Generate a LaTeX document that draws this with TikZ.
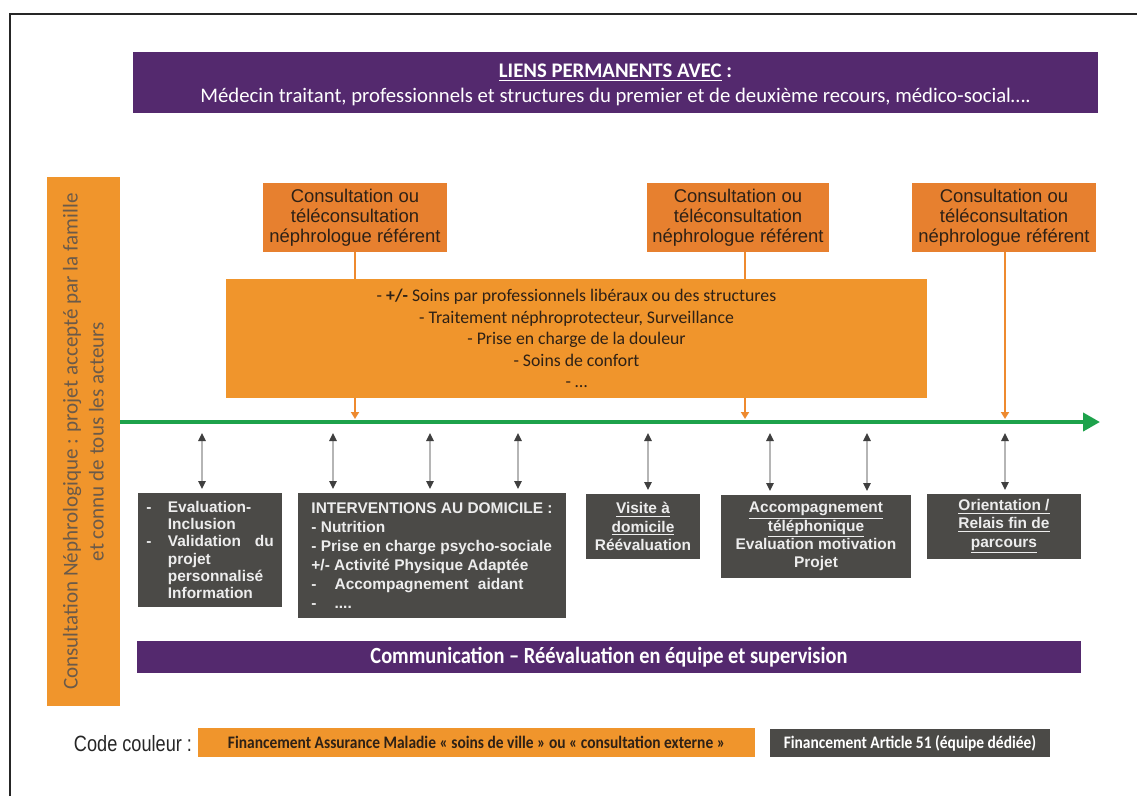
\documentclass[tikz,border=0pt]{standalone}
\usepackage{fontspec}
\setmainfont{Carlito}
\newfontfamily\arialf{Liberation Sans}
\newfontfamily\arialnarrow{Liberation Sans}[FakeStretch=0.82]
\newfontfamily\carlitonarrow{Carlito}[FakeStretch=0.88]
\usetikzlibrary{arrows.meta,fit}

\definecolor{bandViolet}{HTML}{54296E}
\definecolor{softOrange}{HTML}{F0952C}
\definecolor{deepOrange}{HTML}{E7802F}
\definecolor{slateGrey}{HTML}{4B4A47}
\definecolor{lineGreen}{HTML}{1DA24B}
\definecolor{barInk}{HTML}{6B5A49}
\definecolor{darkInk}{HTML}{2E2116}
\definecolor{paleInk}{HTML}{EDEDED}
\definecolor{shaftGrey}{HTML}{B5B5B5}
\definecolor{headGrey}{HTML}{3F3F3F}
\definecolor{linkOrange}{HTML}{EE8A2F}

\newcommand\dashlbl[1]{\makebox[#1][l]{-}}

\begin{document}
\begin{tikzpicture}[x=0.02cm,y=-0.02cm,
  box/.style={inner sep=0pt, outer sep=0pt},
  label text/.style={inner sep=0pt, outer sep=0pt},
  band/.style={box, fill=bandViolet},
  consult/.style={box, fill=deepOrange},
  consulttext/.style={label text, text=darkInk, align=center,
    font=\arialf\fontsize{10.5}{11.4}\selectfont},
  care/.style={box, fill=softOrange},
  caretext/.style={label text, text=darkInk, align=center,
    font=\fontsize{10.1}{12.2}\selectfont},
  task/.style={box, fill=slateGrey},
  tasktext/.style={label text, text=paleInk,
    font=\arialf\bfseries\fontsize{8.8}{10.4}\selectfont},
  timeline/.style={draw=lineGreen, line width=0.08cm,
    -{Triangle[length=0.34cm,width=0.36cm]}},
  link/.style={draw=linkOrange, line width=0.035cm,
    -{Triangle[length=0.14cm,width=0.16cm]}},
  exchange/.style={draw=shaftGrey, line width=0.03cm,
    {Triangle[length=0.16cm,width=0.15cm,color=headGrey]}-{Triangle[length=0.16cm,width=0.15cm,color=headGrey]},
    shorten >=0.08cm},
  frameline/.style={draw=black!85, line width=0.045cm}]

\useasboundingbox (0,0) rectangle (1137,796);
\fill[white] (0,0) rectangle (1137,796);

% outer frame
\coordinate (fbl) at (10,796);
\coordinate (ftl) at (10,14);
\coordinate (ftr) at (1137,14);
\draw[frameline] (fbl) -- (ftl) -- (ftr);

% top band
\node[band, fit={(133,52)(1098,113)}] (liens) {};
\node[label text, text=white, align=center, font=\fontsize{11.8}{14.4}\selectfont] (lienstext) at ([yshift=-0.05cm]liens.center)
  {\textbf{\underline{LIENS PERMANENTS AVEC}} \textbf{:}\\
   Médecin traitant, professionnels et structures du premier et de deuxième recours, médico-social….};

% left vertical bar
\node[box, fill=softOrange, fit={(47,177)(120,706)}] (bar) {};
\node[label text, rotate=90, align=center, text=barInk, font=\fontsize{12}{14.8}\selectfont] (bartext) at (bar.center)
  {Consultation Néphrologique : projet accepté par la famille\\et connu de tous les acteurs};

% consultations
\node[consult, fit={(263,183)(447,252)}] (c1) {};
\node[consult, fit={(647,183)(829,252)}] (c2) {};
\node[consult, fit={(912,183)(1096,252)}] (c3) {};
\node[consulttext] (c1t) at (c1.center) {Consultation ou\\téléconsultation\\néphrologue référent};
\node[consulttext] (c2t) at (c2.center) {Consultation ou\\téléconsultation\\néphrologue référent};
\node[consulttext] (c3t) at (c3.center) {Consultation ou\\téléconsultation\\néphrologue référent};

% timeline
\coordinate (tEnd) at (1100,422);
\draw[timeline] (bar.east |- tEnd) -- (tEnd);

% links from consultations down to the timeline
\coordinate (a1) at (355,419);
\coordinate (a2) at (745,419);
\coordinate (a3) at (1005,419);
\draw[link] (c1.south -| a1) -- (a1);
\draw[link] (c2.south -| a2) -- (a2);
\draw[link] (c3.south -| a3) -- (a3);

% continuous care box (over the links)
\node[care, fit={(226,279)(927,398)}] (soins) {};
\node[caretext] (soinstext) at (soins.center)
  {- \textbf{+/-} Soins par professionnels libéraux ou des structures\\
   - Traitement néphroprotecteur, Surveillance\\
   - Prise en charge de la douleur\\
   - Soins de confort\\
   - …};

% dedicated team actions
\node[task, fit={(138,493)(282,607)}] (g1) {};
\node[task, fit={(298,493)(566,618)}] (g2) {};
\node[task, fit={(586,494)(700,559)}] (g3) {};
\node[task, fit={(721,495)(911,578)}] (g4) {};
\node[task, fit={(927,494)(1081,559)}] (g5) {};

\node[tasktext, align=left, font=\arialf\bfseries\fontsize{8.8}{9.8}\selectfont] (g1t) at (g1.center)
  {\dashlbl{1.4em}Evaluation-\\
   \hspace*{1.4em}Inclusion\\
   \dashlbl{1.4em}Validation\hspace{0.9em}du\\
   \hspace*{1.4em}projet\\
   \hspace*{1.4em}personnalisé\\
   \hspace*{1.4em}Information};
\node[tasktext, align=left, font=\arialf\bfseries\fontsize{8.8}{10.8}\selectfont] (g2t) at (g2.center)
  {INTERVENTIONS AU DOMICILE :\\
   - Nutrition\\
   - Prise en charge psycho-sociale\\
   +/- Activité Physique Adaptée\\
   \dashlbl{1.5em}Accompagnement\hspace{0.6em}aidant\\
   \dashlbl{1.5em}....};
\node[tasktext, align=center] (g3t) at (g3.center)
  {\underline{Visite à}\\ \underline{domicile}\\ Réévaluation};
\node[tasktext, align=center] (g4t) at (g4.center)
  {\underline{Accompagnement}\\ \underline{téléphonique}\\ Evaluation motivation\\ Projet};
\node[tasktext, align=center] (g5t) at (g5.center)
  {\underline{Orientation /}\\ \underline{Relais fin de}\\ \underline{parcours}};

% exchanges between the timeline and the actions
\coordinate (t1) at (202,433);
\coordinate (t2) at (333,433);
\coordinate (t3) at (430,433);
\coordinate (t4) at (518,433);
\coordinate (t5) at (648,433);
\coordinate (t6) at (770,433);
\coordinate (t7) at (867,433);
\coordinate (t8) at (1005,433);
\draw[exchange] (t1) -- (t1 |- g1.north);
\draw[exchange] (t2) -- (t2 |- g2.north);
\draw[exchange] (t3) -- (t3 |- g2.north);
\draw[exchange] (t4) -- (t4 |- g2.north);
\draw[exchange] (t5) -- (t5 |- g3.north);
\draw[exchange] (t6) -- (t6 |- g4.north);
\draw[exchange] (t7) -- (t7 |- g4.north);
\draw[exchange] (t8) -- (t8 |- g5.north);

% bottom band
\node[band, fit={(137,641)(1081,673)}] (comm) {};
\node[label text, text=white, font=\carlitonarrow\bfseries\fontsize{13.2}{15}\selectfont] (commtext) at (comm.center)
  {Communication – Réévaluation en équipe et supervision};

% colour legend
\node[label text, text=black!85, font=\arialnarrow\fontsize{12.6}{14}\selectfont] (code) at (133,744) {Code couleur :};
\node[box, fill=softOrange, fit={(198,728)(755,757)}] (legA) {};
\node[box, fill=slateGrey, fit={(770,729)(1050,757)}] (legB) {};
\node[label text, text=darkInk, font=\carlitonarrow\bfseries\fontsize{10}{12}\selectfont] (legAt) at (legA.center)
  {Financement Assurance Maladie « soins de ville » ou « consultation externe »};
\node[label text, text=white, font=\carlitonarrow\bfseries\fontsize{10}{12}\selectfont] (legBt) at (legB.center)
  {Financement Article 51 (équipe dédiée)};

\end{tikzpicture}
\end{document}
